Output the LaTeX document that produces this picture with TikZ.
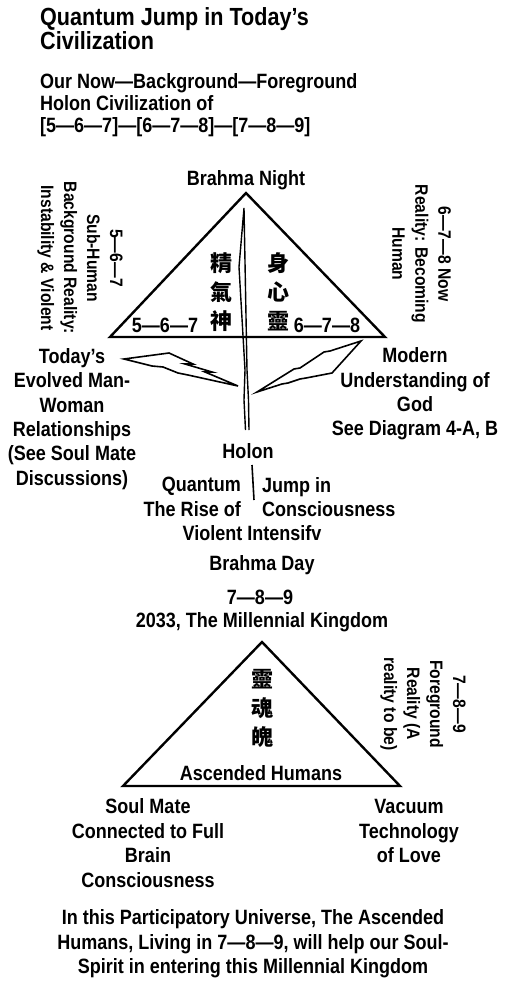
\documentclass[tikz,border=0pt]{standalone}
\usepackage{fontspec}
\setmainfont{Liberation Sans}[FakeStretch=0.87]
\newfontfamily\cjk{Noto Sans CJK TC}
\usetikzlibrary{positioning}

\begin{document}
\begin{tikzpicture}[
   x=1pt,y=-1pt,
   txt/.style={font=\fontsize{20.7}{24.4}\selectfont\bfseries,align=center,inner sep=0pt},
   head/.style={txt,font=\fontsize{24.8}{23}\selectfont\bfseries,align=left,anchor=north west},
   side/.style={font=\fontsize{18}{23}\selectfont\bfseries,align=center,inner sep=0pt,rotate=-90},
   han/.style={font=\fontsize{22}{29}\selectfont\cjk\bfseries,align=center,inner sep=0pt},
   tri/.style={draw,line width=2.4pt,line join=miter},
   bolt/.style={draw,line width=1.6pt,line join=miter}
  ]
  \useasboundingbox[fill=white] (0,0) rectangle (507,985);

  \node[head] (title) at (40,7) {Quantum Jump in Today's\\Civilization};
  \node[head,font=\fontsize{20.7}{22}\selectfont\bfseries] (sub) at (40,73)
       {Our Now---Background---Foreground\\Holon Civilization of\\{}[5---6---7]---[6---7---8]---[7---8---9]};

  % night triangle
  \coordinate (ntop)   at (246,193);
  \coordinate (nleft)  at (110,337);
  \coordinate (nright) at (385,337);
  \draw[tri] (ntop) -- (nleft) -- (nright) -- cycle;
  \node[txt] (night) at (246,180) {Brahma Night};
  \node[han] (jqs) at (221,292) {精\\氣\\神};
  \node[han] (sxl) at (278,292) {身\\心\\靈};
  \node[txt] (n567) at (165,325) {5---6---7};
  \node[txt] (n678) at (327,325) {6---7---8};
  \node[side] (bg) at (80,258) {5---6---7\\Sub-Human\\Background Reality:\\Instability \& Violent};
  \node[side] (now) at (421.5,254) {6---7---8 Now\\Reality: Becoming\\Human};

  % needle
  \coordinate (nd) at (244,208);
  \draw[bolt,line width=1.4pt] (245.5,430) -- (244,400) -- (245,370) -- (239,267) -- (nd)
       -- (247,370) -- (248.5,400) -- (249,430);

  % bolts
  \draw[bolt] (124,359) -- (169,353) -- (193,364) -- (185,364) -- (212,372) -- (205,372) -- (238,386)
       -- (188,375) -- (178,373) -- (163,367) -- (152,366) -- cycle;
  \draw[bolt] (361,341) -- (332,373) -- (306,378) -- (300,379) -- (288,383) -- (282,384) -- (257,392)
       -- (294,369) -- (300,368) -- (324,352) -- (330,351) -- cycle;

  \node[txt] (rel) at (72,419) {Today's\\Evolved Man-\\Woman\\Relationships\\(See Soul Mate\\Discussions)};
  \node[txt] (god) at (415,394) {Modern\\Understanding of\\God\\See Diagram 4-A, B};
  \node[txt] (holon) at (248,451) {Holon};
  \coordinate (jt) at (252,465);
  \coordinate (jb) at (254,500);
  \draw[line width=1.6pt] (jt) -- (jb);
  \node[txt,align=right,anchor=east] (qrise) at (241,497) {Quantum\\The Rise of};
  \node[txt,align=left,anchor=west] (jcon) at (262,497) {Jump in\\Consciousness};
  \node[txt] (viol) at (252,533) {Violent Intensifv};

  \node[txt] (day) at (262,565) {Brahma Day};
  \node[txt] (d789) at (260,597) {7---8---9};
  \node[txt] (king) at (262,622) {2033, The Millennial Kingdom};

  % day triangle
  \coordinate (dtop)   at (262,642);
  \coordinate (dleft)  at (123,786);
  \coordinate (dright) at (400,786);
  \draw[tri] (dtop) -- (dleft) -- (dright) -- cycle;
  \node[han] (lhp) at (262,708) {靈\\魂\\魄};
  \node[txt] (asc) at (261,773) {Ascended Humans};
  \node[side] (fore) at (423,704) {7---8---9\\Foreground\\Reality (A\\reality to be)};

  \node[txt] (soul) at (148,843) {Soul Mate\\Connected to Full\\Brain\\Consciousness};
  \node[txt] (vac) at (409,831) {Vacuum\\Technology\\of Love};
  \node[txt] (part) at (253,944) {In this Participatory Universe, The Ascended\\Humans, Living in 7---8---9, will help our Soul-\\Spirit in entering this Millennial Kingdom};
\end{tikzpicture}
\end{document}
